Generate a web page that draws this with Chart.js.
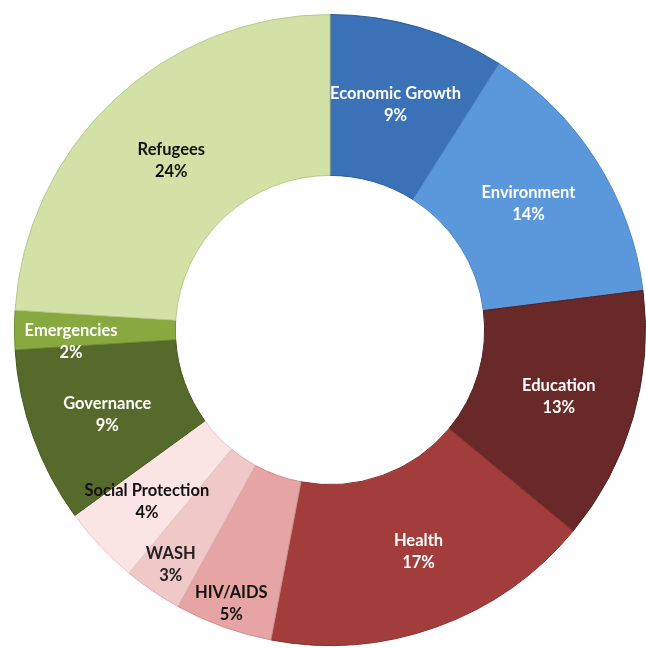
<!DOCTYPE html>
<html>
<head>
<meta charset="utf-8">
<script src="https://cdn.jsdelivr.net/npm/chart.js@4"></script>
<style>
  html, body { margin: 0; padding: 0; background: #ffffff; }
  #wrap { width: 646px; height: 648px; position: relative; }
</style>
</head>
<body>
<div id="wrap"><canvas id="c" width="646" height="648"></canvas></div>
<script>
const categories = ["Economic Growth", "Environment", "Education", "Health", "HIV/AIDS", "WASH", "Social Protection", "Governance", "Emergencies", "Refugees"];
const shares = [9, 14, 13, 17, 5, 3, 4, 9, 2, 24];
const percentLabels = ["9%", "14%", "13%", "17%", "5%", "3%", "4%", "9%", "2%", "24%"];

const sliceColors = ["#3B71B6", "#5B98DB", "#6A2929", "#A33D3C", "#E6A5A4", "#F1C8C8", "#FBE4E4", "#566A2C", "#87A93F", "#D2E2A6"];
const edgeColors  = ["#2E5C96", "#4B84C4", "#551F1F", "#872F2E", "#CC8E8D", "#D9AFAF", "#E6CACA", "#44561F", "#6E8C2F", "#B8C98B"];
const textColors  = ["#ffffff", "#ffffff", "#ffffff", "#ffffff", "#111111", "#222222", "#111111", "#ffffff", "#ffffff", "#111111"];
// radial placement of each label as a fraction between inner (0) and outer (1) edge
const labelRadial = [0.5, 0.5, 0.52, 0.52, 0.85, 0.8, 0.6, 0.52, 0.65, 0.48];
// angular nudge of each label, in degrees (negative = counter-clockwise)
const labelTurn = [0, 0, 0, -2, 0, 0, 0, -1, -2.5, 0];

const sliceLabels = {
  id: 'sliceLabels',
  afterDatasetsDraw(chart) {
    const ctx = chart.ctx;
    const meta = chart.getDatasetMeta(0);
    ctx.save();
    ctx.font = 'bold 16.5px Lato, "Open Sans", sans-serif';
    ctx.textAlign = 'center';
    ctx.textBaseline = 'middle';
    meta.data.forEach((arc, i) => {
      const p = arc.getProps(['x', 'y', 'startAngle', 'endAngle', 'innerRadius', 'outerRadius'], true);
      const mid = (p.startAngle + p.endAngle) / 2 + labelTurn[i] * Math.PI / 180;
      const r = p.innerRadius + (p.outerRadius - p.innerRadius) * labelRadial[i];
      const x = p.x + Math.cos(mid) * r;
      const y = p.y + Math.sin(mid) * r;
      ctx.fillStyle = textColors[i];
      ctx.fillText(categories[i], x, y - 11);
      ctx.fillText(percentLabels[i], x, y + 11);
    });
    ctx.restore();
  }
};

new Chart(document.getElementById('c'), {
  type: 'doughnut',
  data: {
    labels: categories,
    datasets: [{
      data: shares,
      backgroundColor: sliceColors,
      borderColor: edgeColors,
      borderWidth: 1
    }]
  },
  options: {
    responsive: false,
    animation: false,
    cutout: '49%',
    rotation: 0,
    layout: { padding: { left: 14, right: 0, top: 14, bottom: 2 } },
    plugins: {
      legend: { display: false },
      tooltip: { enabled: false },
      title: { display: false }
    }
  },
  plugins: [sliceLabels]
});
</script>
</body>
</html>
